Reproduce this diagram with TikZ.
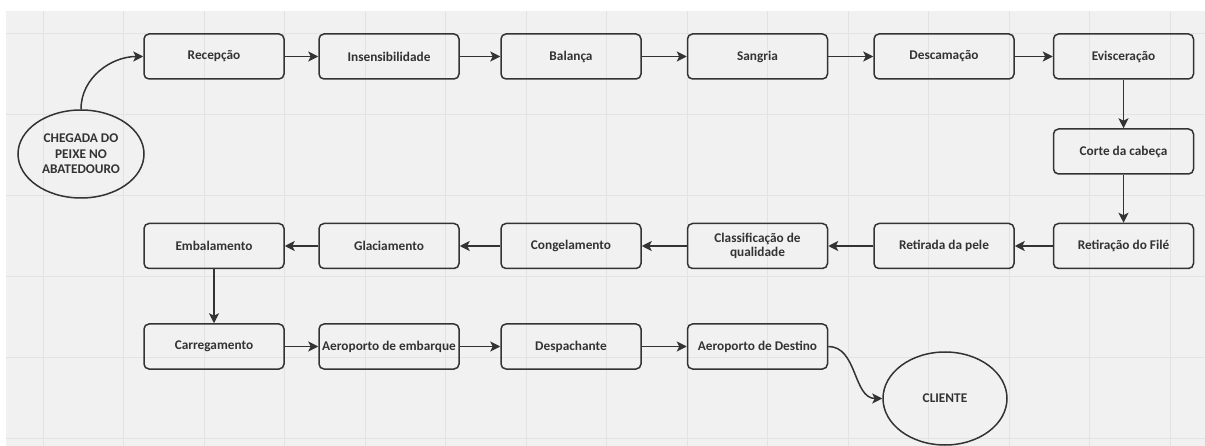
\documentclass[tikz,border=0pt]{standalone}
\usepackage{fontspec}
\setmainfont{Carlito}
\usetikzlibrary{arrows.meta,shapes.geometric}
\definecolor{bgc}{HTML}{F1F1F1}
\definecolor{gridc}{HTML}{E3E3E3}
\definecolor{ink}{HTML}{333333}
\tikzset{
  stepbox/.style={draw=ink, line width=1.5pt, rounded corners=5pt, minimum width=140pt, minimum height=45pt,
    inner sep=1pt, align=center, text=ink, font=\fontsize{13.3}{14.5}\selectfont\bfseries},
  endnode/.style={draw=ink, line width=1.5pt, ellipse, inner sep=0pt, align=center, text=ink,
    font=\fontsize{13.3}{15.5}\selectfont\bfseries},
  flow/.style={draw=ink, line width=1.5pt, -{Stealth[length=10pt,width=10pt,inset=2.5pt]}},
}
\begin{document}
\begin{tikzpicture}[x=1pt,y=-1pt]
\useasboundingbox (0,0) rectangle (1205,446);
\fill[white] (0,0) rectangle (1205,446);
\fill[bgc] (6,11) rectangle (1205,446);
% grid
\foreach \i in {0,...,14} {\draw[gridc, line width=0.9pt] ({43+80.5*\i},11) -- ({43+80.5*\i},446);}
\foreach \j in {0,...,5} {\draw[gridc, line width=0.9pt] (6,{33+81*\j}) -- (1205,{33+81*\j});}
% row 1
\node[stepbox] (rec) at (214,56.5) {Recepção};
\node[stepbox] (ins) at (389,56.5) {Insensibilidade};
\node[stepbox] (bal) at (571,56.5) {Balança};
\node[stepbox] (san) at (757.5,56.5) {Sangria};
\node[stepbox] (des) at (944,56.5) {Descamação};
\node[stepbox] (evi) at (1123.5,56.5) {Evisceração};
\node[stepbox] (cor) at (1123.5,151.5) {Corte da cabeça};
% row 2
\node[stepbox] (fil) at (1123.5,246) {Retiração do Filé};
\node[stepbox] (pel) at (944,246) {Retirada da pele};
\node[stepbox] (cla) at (757.5,246) {Classificação de\\qualidade};
\node[stepbox] (con) at (571,246) {Congelamento};
\node[stepbox] (gla) at (389,246) {Glaciamento};
\node[stepbox] (emb) at (214,246) {Embalamento};
% row 3
\node[stepbox] (car) at (214,346.5) {Carregamento};
\node[stepbox] (aem) at (389,346.5) {Aeroporto de embarque};
\node[stepbox] (dsp) at (571,346.5) {Despachante};
\node[stepbox] (ads) at (757.5,346.5) {Aeroporto de Destino};
% ellipses
\node[endnode, minimum width=126pt, minimum height=88pt] (che) at (81,154) {CHEGADA DO\\PEIXE NO\\ABATEDOURO};
\node[endnode, minimum width=124pt, minimum height=93pt] (cli) at (945,398.5) {CLIENTE};
% connectors
\draw[flow] (che.north) to[out=90,in=180] (rec.west);
\draw[flow] (rec) -- (ins);
\draw[flow] (ins) -- (bal);
\draw[flow] (bal) -- (san);
\draw[flow] (san) -- (des);
\draw[flow] (des) -- (evi);
\draw[flow] (evi) -- (cor);
\draw[flow] (cor) -- (fil);
\draw[flow] (fil) -- (pel);
\draw[flow] (pel) -- (cla);
\draw[flow] (cla) -- (con);
\draw[flow] (con) -- (gla);
\draw[flow] (gla) -- (emb);
\draw[flow] (emb) -- (car);
\draw[flow] (car) -- (aem);
\draw[flow] (aem) -- (dsp);
\draw[flow] (dsp) -- (ads);
\draw[flow] (ads.east) to[out=0,in=180] (cli.west);
\end{tikzpicture}
\end{document}
